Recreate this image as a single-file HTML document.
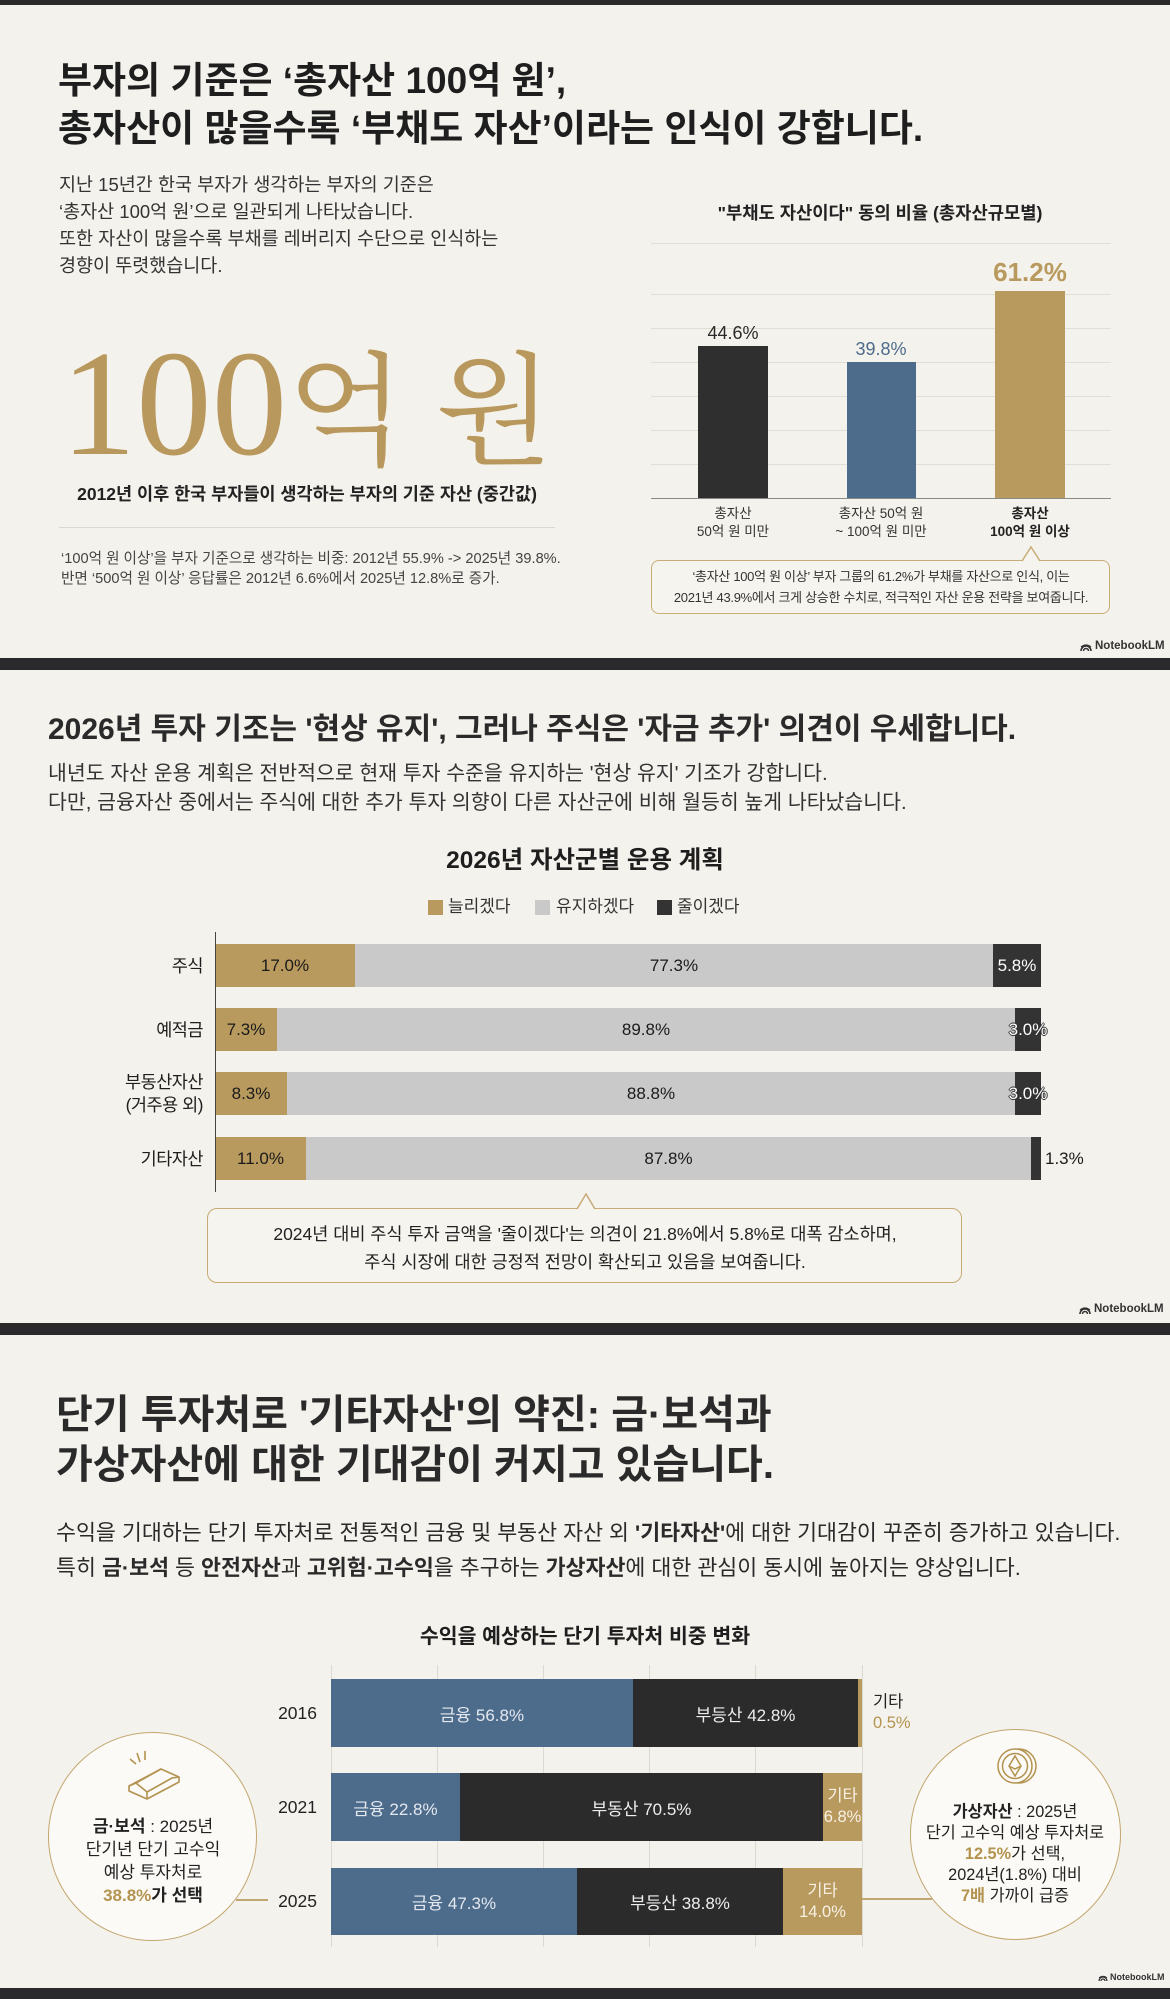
<!DOCTYPE html>
<html lang="ko">
<head>
<meta charset="utf-8">
<style>
html,body{margin:0;padding:0;}
body{width:1170px;height:1999px;background:#f4f2ec;position:relative;overflow:hidden;font-family:"Liberation Sans","Noto Sans CJK KR",sans-serif;color:#222;}
.a{position:absolute;white-space:nowrap;}
.sep{position:absolute;left:0;width:1170px;background:#2a2a2d;}
.lb{position:absolute;display:flex;align-items:center;justify-content:center;white-space:nowrap;}
.col{flex-direction:column;}
.gl{position:absolute;height:1px;background:#e1ded6;}
.vg{position:absolute;width:1px;background:#dcd9d1;}
.nb{position:absolute;font-size:11.5px;line-height:14px;color:#333;font-weight:bold;white-space:nowrap;}
.nb svg{vertical-align:-2px;margin-right:3px;}
b{font-weight:700;}
.gold{color:#b3934f;}
</style>
</head>
<body>

<!-- separators -->
<div class="sep" style="top:0;height:5px;"></div>
<div class="sep" style="top:658px;height:12px;"></div>
<div class="sep" style="top:1323px;height:12px;"></div>
<div class="sep" style="top:1988px;height:11px;"></div>

<!-- ============ SECTION 1 ============ -->
<div class="a" style="left:58px;top:57px;font-size:37px;line-height:48px;font-weight:bold;letter-spacing:0;color:#1e1e1e;">부자의 기준은 ‘총자산 100억 원’,<br>총자산이 많을수록 ‘부채도 자산’이라는 인식이 강합니다.</div>

<div class="a" style="left:59px;top:171px;font-size:18.5px;line-height:27px;color:#333;">지난 15년간 한국 부자가 생각하는 부자의 기준은<br>‘총자산 100억 원’으로 일관되게 나타났습니다.<br>또한 자산이 많을수록 부채를 레버리지 수단으로 인식하는<br>경향이 뚜렷했습니다.</div>

<div class="a" style="left:59px;top:328px;width:496px;text-align:center;font-family:'Liberation Serif','Noto Serif CJK SC',serif;font-size:151px;line-height:1;color:#b8985c;">100<span style="font-size:122px;">억 원</span></div>

<div class="a" style="left:39px;top:483px;width:536px;text-align:center;font-size:17.5px;line-height:22px;font-weight:bold;color:#222;">2012년 이후 한국 부자들이 생각하는 부자의 기준 자산 (중간값)</div>

<div class="a" style="left:59px;top:527px;width:496px;height:1px;background:#dcd8cf;"></div>

<div class="a" style="left:61px;top:549px;font-size:14.6px;line-height:20px;color:#444;">‘100억 원 이상’을 부자 기준으로 생각하는 비중: 2012년 55.9% -&gt; 2025년 39.8%.<br>반면 ‘500억 원 이상’ 응답률은 2012년 6.6%에서 2025년 12.8%로 증가.</div>

<!-- right chart -->
<div class="a" style="left:680px;top:202px;width:400px;text-align:center;font-size:17.7px;line-height:22px;font-weight:bold;color:#222;">"부채도 자산이다" 동의 비율 (총자산규모별)</div>

<div class="gl" style="left:651px;width:460px;top:243px;"></div>
<div class="gl" style="left:651px;width:460px;top:294px;"></div>
<div class="gl" style="left:651px;width:460px;top:328px;"></div>
<div class="gl" style="left:651px;width:460px;top:362px;"></div>
<div class="gl" style="left:651px;width:460px;top:396px;"></div>
<div class="gl" style="left:651px;width:460px;top:430px;"></div>
<div class="gl" style="left:651px;width:460px;top:464px;"></div>

<div class="a" style="left:698px;top:346px;width:70px;height:152px;background:#2f2f2f;"></div>
<div class="a" style="left:847px;top:362px;width:69px;height:136px;background:#4d6b8b;"></div>
<div class="a" style="left:995px;top:291px;width:70px;height:207px;background:#b99a5e;"></div>
<div class="a" style="left:651px;top:498px;width:460px;height:1px;background:#8a8a8a;"></div>

<div class="lb" style="left:683px;top:323px;width:100px;height:21px;font-size:18px;color:#2a2a2a;">44.6%</div>
<div class="lb" style="left:831px;top:339px;width:100px;height:21px;font-size:18px;color:#4d6b8b;">39.8%</div>
<div class="lb" style="left:970px;top:257px;width:120px;height:30px;font-size:26px;font-weight:bold;color:#b99a5e;">61.2%</div>

<div class="a" style="left:663px;top:505px;width:140px;text-align:center;font-size:13.5px;line-height:18px;color:#333;">총자산<br>50억 원 미만</div>
<div class="a" style="left:811px;top:505px;width:140px;text-align:center;font-size:13.5px;line-height:18px;color:#333;">총자산 50억 원<br>~ 100억 원 미만</div>
<div class="a" style="left:960px;top:505px;width:140px;text-align:center;font-size:13.5px;line-height:18px;font-weight:bold;color:#222;">총자산<br>100억 원 이상</div>

<div class="a" style="left:651px;top:560px;width:457px;height:52px;border:1.5px solid #c9ad77;border-radius:8px;background:#f6f4ef;"></div>
<svg class="a" style="left:1021px;top:546px;" width="20" height="17" viewBox="0 0 20 17"><polygon points="1,16.5 10,1 19,16.5" fill="#f6f4ef"/><polyline points="1,15 10,1 19,15" fill="none" stroke="#c9ad77" stroke-width="1.5"/></svg>
<div class="a" style="left:651px;top:566px;width:460px;text-align:center;font-size:13px;line-height:21px;letter-spacing:-0.3px;color:#333;">‘총자산 100억 원 이상’ 부자 그룹의 61.2%가 부채를 자산으로 인식, 이는<br>2021년 43.9%에서 크게 상승한 수치로, 적극적인 자산 운용 전략을 보여줍니다.</div>

<div class="nb" style="left:1080px;top:639px;"><svg width="12" height="10" viewBox="0 0 12 10"><path d="M1,10 A5,5 0 0 1 11,10" fill="none" stroke="#333" stroke-width="1.6"/><path d="M3.5,10 A2.5,2.5 0 0 1 8.5,10" fill="none" stroke="#333" stroke-width="1.6"/><path d="M1,6 Q6,2 11,6" fill="none" stroke="#333" stroke-width="1.2"/></svg>NotebookLM</div>

<!-- ============ SECTION 2 ============ -->
<div class="a" style="left:48px;top:712px;font-size:30px;line-height:36px;font-weight:bold;color:#2a2a2a;">2026년 투자 기조는 '현상 유지', 그러나 주식은 '자금 추가' 의견이 우세합니다.</div>
<div class="a" style="left:48px;top:759px;font-size:20.5px;line-height:29px;color:#333;">내년도 자산 운용 계획은 전반적으로 현재 투자 수준을 유지하는 '현상 유지' 기조가 강합니다.<br>다만, 금융자산 중에서는 주식에 대한 추가 투자 의향이 다른 자산군에 비해 월등히 높게 나타났습니다.</div>

<div class="a" style="left:385px;top:846px;width:400px;text-align:center;font-size:24.5px;line-height:30px;font-weight:bold;color:#1e1e1e;">2026년 자산군별 운용 계획</div>

<div class="a" style="left:428px;top:900px;width:15px;height:15px;background:#b99a5e;"></div>
<div class="a" style="left:448px;top:897px;font-size:17px;line-height:20px;color:#333;">늘리겠다</div>
<div class="a" style="left:535px;top:900px;width:15px;height:15px;background:#c9c9c9;"></div>
<div class="a" style="left:556px;top:897px;font-size:17px;line-height:20px;color:#333;">유지하겠다</div>
<div class="a" style="left:657px;top:900px;width:15px;height:15px;background:#333;"></div>
<div class="a" style="left:677px;top:897px;font-size:17px;line-height:20px;color:#333;">줄이겠다</div>

<!-- row labels -->
<div class="lb" style="left:83px;top:944px;width:120px;height:43px;justify-content:flex-end;font-size:17.5px;letter-spacing:-0.5px;color:#1e1e1e;">주식</div>
<div class="lb" style="left:83px;top:1008px;width:120px;height:43px;justify-content:flex-end;font-size:17.5px;letter-spacing:-0.5px;color:#1e1e1e;">예적금</div>
<div class="lb col" style="left:83px;top:1072px;width:120px;height:43px;align-items:flex-end;font-size:17.5px;line-height:23px;letter-spacing:-0.5px;color:#1e1e1e;"><span>부동산자산</span><span>(거주용 외)</span></div>
<div class="lb" style="left:83px;top:1137px;width:120px;height:43px;justify-content:flex-end;font-size:17.5px;letter-spacing:-0.5px;color:#1e1e1e;">기타자산</div>

<!-- row 1 -->
<div class="a" style="left:215px;top:944px;width:140px;height:43px;background:#b99a5e;"></div>
<div class="a" style="left:355px;top:944px;width:638px;height:43px;background:#c9c9c9;"></div>
<div class="a" style="left:993px;top:944px;width:48px;height:43px;background:#333;"></div>
<div class="lb" style="left:215px;top:944px;width:140px;height:43px;font-size:17px;color:#1a1a1a;">17.0%</div>
<div class="lb" style="left:355px;top:944px;width:638px;height:43px;font-size:17px;color:#1a1a1a;">77.3%</div>
<div class="lb" style="left:993px;top:944px;width:48px;height:43px;font-size:17px;color:#fff;">5.8%</div>
<!-- row 2 -->
<div class="a" style="left:215px;top:1008px;width:62px;height:43px;background:#b99a5e;"></div>
<div class="a" style="left:277px;top:1008px;width:738px;height:43px;background:#c9c9c9;"></div>
<div class="a" style="left:1015px;top:1008px;width:26px;height:43px;background:#333;"></div>
<div class="lb" style="left:215px;top:1008px;width:62px;height:43px;font-size:17px;color:#1a1a1a;">7.3%</div>
<div class="lb" style="left:277px;top:1008px;width:738px;height:43px;font-size:17px;color:#1a1a1a;">89.8%</div>
<div class="lb" style="left:1015px;top:1008px;width:26px;height:43px;font-size:17px;color:#fff;text-shadow:1px 0 #333,-1px 0 #333,0 1px #333,0 -1px #333;">3.0%</div>
<!-- row 3 -->
<div class="a" style="left:215px;top:1072px;width:72px;height:43px;background:#b99a5e;"></div>
<div class="a" style="left:287px;top:1072px;width:728px;height:43px;background:#c9c9c9;"></div>
<div class="a" style="left:1015px;top:1072px;width:26px;height:43px;background:#333;"></div>
<div class="lb" style="left:215px;top:1072px;width:72px;height:43px;font-size:17px;color:#1a1a1a;">8.3%</div>
<div class="lb" style="left:287px;top:1072px;width:728px;height:43px;font-size:17px;color:#1a1a1a;">88.8%</div>
<div class="lb" style="left:1015px;top:1072px;width:26px;height:43px;font-size:17px;color:#fff;text-shadow:1px 0 #333,-1px 0 #333,0 1px #333,0 -1px #333;">3.0%</div>
<!-- row 4 -->
<div class="a" style="left:215px;top:1137px;width:91px;height:43px;background:#b99a5e;"></div>
<div class="a" style="left:306px;top:1137px;width:725px;height:43px;background:#c9c9c9;"></div>
<div class="a" style="left:1031px;top:1137px;width:10px;height:43px;background:#333;"></div>
<div class="lb" style="left:215px;top:1137px;width:91px;height:43px;font-size:17px;color:#1a1a1a;">11.0%</div>
<div class="lb" style="left:306px;top:1137px;width:725px;height:43px;font-size:17px;color:#1a1a1a;">87.8%</div>
<div class="lb" style="left:1045px;top:1137px;width:40px;height:43px;justify-content:flex-start;font-size:17px;color:#1a1a1a;">1.3%</div>

<div class="a" style="left:215px;top:932px;width:1px;height:260px;background:#444;"></div>

<div class="a" style="left:207px;top:1208px;width:753px;height:73px;border:1.5px solid #c8ab74;border-radius:10px;background:#f6f4ef;"></div>
<svg class="a" style="left:576px;top:1193px;" width="20" height="18" viewBox="0 0 20 18"><polygon points="1,17.5 10,1 19,17.5" fill="#f6f4ef"/><polyline points="1,16 10,1 19,16" fill="none" stroke="#c8ab74" stroke-width="1.5"/></svg>
<div class="a" style="left:207px;top:1220px;width:756px;text-align:center;font-size:17.5px;line-height:28px;color:#222;">2024년 대비 주식 투자 금액을 '줄이겠다'는 의견이 21.8%에서 5.8%로 대폭 감소하며,<br>주식 시장에 대한 긍정적 전망이 확산되고 있음을 보여줍니다.</div>

<div class="nb" style="left:1079px;top:1302px;"><svg width="12" height="10" viewBox="0 0 12 10"><path d="M1,10 A5,5 0 0 1 11,10" fill="none" stroke="#333" stroke-width="1.6"/><path d="M3.5,10 A2.5,2.5 0 0 1 8.5,10" fill="none" stroke="#333" stroke-width="1.6"/><path d="M1,6 Q6,2 11,6" fill="none" stroke="#333" stroke-width="1.2"/></svg>NotebookLM</div>

<!-- ============ SECTION 3 ============ -->
<div class="a" style="left:56px;top:1390px;font-size:40px;line-height:50px;font-weight:bold;color:#2a2a2a;">단기 투자처로 '기타자산'의 약진: 금·보석과<br>가상자산에 대한 기대감이 커지고 있습니다.</div>

<div class="a" style="left:56px;top:1515px;font-size:21.7px;line-height:35px;color:#2a2a2a;">수익을 기대하는 단기 투자처로 전통적인 금융 및 부동산 자산 외 <b>'기타자산'</b>에 대한 기대감이 꾸준히 증가하고 있습니다.<br>특히 <b>금·보석</b> 등 <b>안전자산</b>과 <b>고위험·고수익</b>을 추구하는 <b>가상자산</b>에 대한 관심이 동시에 높아지는 양상입니다.</div>

<div class="a" style="left:385px;top:1624px;width:400px;text-align:center;font-size:20.5px;line-height:26px;font-weight:bold;color:#1e1e1e;">수익을 예상하는 단기 투자처 비중 변화</div>

<!-- vertical gridlines -->
<div class="vg" style="left:331px;top:1665px;height:282px;"></div>
<div class="vg" style="left:437px;top:1665px;height:282px;"></div>
<div class="vg" style="left:543px;top:1665px;height:282px;"></div>
<div class="vg" style="left:649px;top:1665px;height:282px;"></div>
<div class="vg" style="left:755px;top:1665px;height:282px;"></div>
<div class="vg" style="left:862px;top:1665px;height:282px;"></div>

<!-- year labels -->
<div class="lb" style="left:237px;top:1679px;width:80px;height:68px;justify-content:flex-end;font-size:17.5px;color:#222;">2016</div>
<div class="lb" style="left:237px;top:1773px;width:80px;height:68px;justify-content:flex-end;font-size:17.5px;color:#222;">2021</div>
<div class="lb" style="left:237px;top:1868px;width:80px;height:67px;justify-content:flex-end;font-size:17.5px;color:#222;">2025</div>

<!-- 2016 -->
<div class="a" style="left:331px;top:1679px;width:302px;height:68px;background:#4d6b8b;"></div>
<div class="a" style="left:633px;top:1679px;width:225px;height:68px;background:#2b2b2b;"></div>
<div class="a" style="left:858px;top:1679px;width:4px;height:68px;background:#b99a5e;"></div>
<div class="lb" style="left:331px;top:1679px;width:302px;height:68px;font-size:17px;color:#e4e9ef;">금융 56.8%</div>
<div class="lb" style="left:633px;top:1679px;width:225px;height:68px;font-size:17px;color:#eee;">부등산 42.8%</div>
<div class="a" style="left:873px;top:1692px;font-size:16.5px;line-height:21px;color:#222;">기타<br><span class="gold">0.5%</span></div>

<!-- 2021 -->
<div class="a" style="left:331px;top:1773px;width:129px;height:68px;background:#4d6b8b;"></div>
<div class="a" style="left:460px;top:1773px;width:363px;height:68px;background:#2b2b2b;"></div>
<div class="a" style="left:823px;top:1773px;width:39px;height:68px;background:#b99a5e;"></div>
<div class="lb" style="left:331px;top:1773px;width:129px;height:68px;font-size:17px;color:#e4e9ef;">금융 22.8%</div>
<div class="lb" style="left:460px;top:1773px;width:363px;height:68px;font-size:17px;color:#eee;">부동산 70.5%</div>
<div class="lb col" style="left:823px;top:1773px;width:39px;height:68px;font-size:16.5px;line-height:21px;color:#f7f1e4;"><span>기타</span><span>6.8%</span></div>

<!-- 2025 -->
<div class="a" style="left:331px;top:1868px;width:246px;height:67px;background:#4d6b8b;"></div>
<div class="a" style="left:577px;top:1868px;width:206px;height:67px;background:#2b2b2b;"></div>
<div class="a" style="left:783px;top:1868px;width:79px;height:67px;background:#b99a5e;"></div>
<div class="lb" style="left:331px;top:1868px;width:246px;height:67px;font-size:17px;color:#e4e9ef;">금융 47.3%</div>
<div class="lb" style="left:577px;top:1868px;width:206px;height:67px;font-size:17px;color:#eee;">부등산 38.8%</div>
<div class="lb col" style="left:783px;top:1868px;width:79px;height:67px;font-size:16.5px;line-height:21px;color:#f7f1e4;"><span>기타</span><span>14.0%</span></div>

<!-- connectors -->
<div class="a" style="left:236px;top:1899px;width:32px;height:1.5px;background:#bfa673;"></div>
<div class="a" style="left:862px;top:1898px;width:70px;height:1.5px;background:#bfa673;"></div>

<!-- left circle -->
<div class="a" style="left:48px;top:1732px;width:207px;height:207px;border:1.5px solid #c3a66e;border-radius:50%;background:#fbfaf6;"></div>
<svg class="a" style="left:123px;top:1750px;" width="62" height="52" viewBox="0 0 62 52">
 <g fill="none" stroke="#b3924f" stroke-width="1.6" stroke-linejoin="round">
  <path d="M14,3 L17,12"/><path d="M22,1 L22,10"/><path d="M7,9 L13,14"/>
  <path d="M6,36 L38,19 L56,27 L56,32 L24,49 L6,41 Z"/>
  <path d="M13,33 L38,19"/><path d="M13,33 L24,42 L49,28 L56,27"/>
  <path d="M6,36 L13,33"/><path d="M24,42 L24,49"/>
 </g>
</svg>
<div class="a" style="left:43px;top:1815px;width:220px;text-align:center;font-size:17px;line-height:23px;color:#222;"><b>금·보석</b> : 2025년<br>단기년 단기 고수익<br>예상 투자처로<br><b class="gold">38.8%</b><b>가 선택</b></div>

<!-- right circle -->
<div class="a" style="left:910px;top:1729px;width:209px;height:209px;border:1.5px solid #c3a66e;border-radius:50%;background:#fbfaf6;"></div>
<svg class="a" style="left:995px;top:1746px;" width="44" height="40" viewBox="0 0 44 40">
 <g fill="none" stroke="#b3924f" stroke-width="1.5">
  <circle cx="24" cy="20" r="17"/>
  <circle cx="20" cy="20" r="17" fill="#fbfaf6"/>
  <circle cx="20" cy="20" r="12.5"/>
  <path d="M20,10 L26,20 L20,30 L14,20 Z"/>
  <path d="M14,20 L20,23 L26,20"/>
 </g>
</svg>
<div class="a" style="left:905px;top:1802px;width:220px;text-align:center;font-size:16.3px;line-height:21px;color:#222;"><b>가상자산</b> : 2025년<br>단기 고수익 예상 투자처로<br><b class="gold">12.5%</b>가 선택,<br>2024년(1.8%) 대비<br><b class="gold">7배</b> 가까이 급증</div>

<div class="nb" style="left:1098px;top:1971px;font-size:9px;line-height:12px;"><svg width="10" height="8" viewBox="0 0 12 10" style="vertical-align:-1px;margin-right:2px;"><path d="M1,10 A5,5 0 0 1 11,10" fill="none" stroke="#333" stroke-width="1.6"/><path d="M3.5,10 A2.5,2.5 0 0 1 8.5,10" fill="none" stroke="#333" stroke-width="1.6"/><path d="M1,6 Q6,2 11,6" fill="none" stroke="#333" stroke-width="1.2"/></svg>NotebookLM</div>

</body>
</html>
